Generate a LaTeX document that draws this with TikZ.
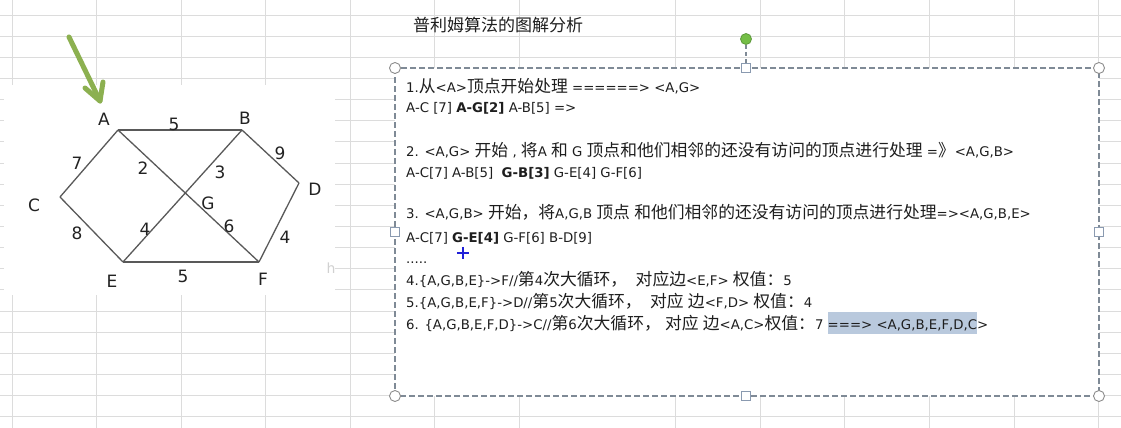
\documentclass[tikz,border=0pt]{standalone}
\usepackage{fontspec}
\setmainfont{DejaVu Sans}
\newfontfamily\cjk{Noto Sans CJK SC}
\usetikzlibrary{calc}
\definecolor{gridc}{HTML}{DCDCDC}
\definecolor{edgec}{HTML}{595959}
\definecolor{labc}{HTML}{222222}
\definecolor{boxc}{HTML}{7F8A96}
\definecolor{handc}{HTML}{8C8C8C}
\definecolor{sqc}{HTML}{8A9AB0}
\definecolor{arrowc}{HTML}{8CB050}
\definecolor{rotfill}{HTML}{74BE46}
\definecolor{rotdraw}{HTML}{5E9A3C}
\definecolor{hl}{HTML}{B9C9DD}
\definecolor{txtc}{HTML}{1E1E1E}
\definecolor{curc}{HTML}{2020D8}
\newcommand\zh[1]{{\fontsize{16.8pt}{20pt}\cjk #1}}
\newcommand\hlbox[1]{{\setlength\fboxsep{0pt}\colorbox{hl}{\rule[-4.5pt]{0pt}{22pt}#1}}}
\tikzset{
  gridline/.style={draw=gridc, line width=0.8pt},
  edge/.style={draw=edgec, line width=1.3pt},
  vlab/.style={font=\fontsize{17pt}{17pt}\selectfont, text=labc, inner sep=0pt},
  wlab/.style={font=\fontsize{17pt}{17pt}\selectfont, text=labc, inner sep=0pt},
  txt/.style={anchor=base west, inner sep=0pt, font=\fontsize{13.3pt}{15pt}\selectfont, text=txtc},
  hcirc/.style={circle, draw=handc, fill=white, line width=0.9pt, minimum size=11pt, inner sep=0pt},
  hsq/.style={rectangle, draw=sqc, fill=white, line width=0.9pt, minimum size=9pt, inner sep=0pt},
  rothandle/.style={circle, draw=rotdraw, fill=rotfill, line width=0.8pt, minimum size=11pt, inner sep=0pt},
  greenarrow/.style={draw=arrowc, line width=5pt, line cap=round, line join=round},
  cursorstyle/.style={minimum size=12pt, inner sep=0pt},
}
\begin{document}
\begin{tikzpicture}[x=1pt,y=-1pt]
\useasboundingbox (0,0) rectangle (1121,428);
\fill[white] (0,0) rectangle (1121,428);
% spreadsheet grid
\foreach \x in {12,96.5,181,265.5,350,434.5,519,675.6,760,844.6,929,1014,1098.5}
  \draw[gridline] (\x,0) -- (\x,428);
\foreach \k in {0,...,19}
  \draw[gridline] (0,{15+21.14*\k}) -- (1121,{15+21.14*\k});
% picture area of the graph
\fill[white] (4,85) rectangle (335,295);
\node[font=\fontsize{14pt}{14pt}\selectfont, text=black!18, inner sep=0pt] (hh) at (331,268) {h};
% title
\node[anchor=west, inner sep=0pt, font=\fontsize{17pt}{20pt}\selectfont, text=txtc] (title) at (413,25) {\cjk 普利姆算法的图解分析};
% green arrow
\coordinate (artail) at (69,37);
\coordinate (artip) at (100,101);
\coordinate (barbL) at (85,88);
\coordinate (barbR) at (103,82);
\draw[greenarrow] (artail) -- (artip);
\draw[greenarrow] (barbL) -- (artip) -- (barbR);
% graph vertices
\coordinate (A) at (118,130);
\coordinate (B) at (242,130);
\coordinate (C) at (60,197);
\coordinate (D) at (299,183);
\coordinate (E) at (123,262);
\coordinate (F) at (259,262);
\coordinate (G) at (intersection of A--F and B--E);
% edges
\draw[edge] (A) -- (B);
\draw[edge] (A) -- (C);
\draw[edge] (C) -- (E);
\draw[edge] (E) -- (F);
\draw[edge] (B) -- (D);
\draw[edge] (D) -- (F);
\draw[edge] (A) -- (G);
\draw[edge] (G) -- (F);
\draw[edge] (B) -- (G);
\draw[edge] (G) -- (E);
% vertex labels
\node[vlab] (lA) at (104,119) {A};
\node[vlab] (lB) at (245,118) {B};
\node[vlab] (lC) at (34,205) {C};
\node[vlab] (lD) at (315,189) {D};
\node[vlab] (lE) at (112,281) {E};
\node[vlab] (lF) at (263,279) {F};
\node[vlab] (lG) at (208,203) {G};
% weights
\node[wlab] (wAB) at (174,124) {5};
\node[wlab] (wAC) at (77,163) {7};
\node[wlab] (wAG) at (143,168) {2};
\node[wlab] (wBG) at (220,172) {3};
\node[wlab] (wBD) at (280,153) {9};
\node[wlab] (wCE) at (77,233) {8};
\node[wlab] (wGE) at (145,229) {4};
\node[wlab] (wGF) at (229,226) {6};
\node[wlab] (wDF) at (285,237) {4};
\node[wlab] (wEF) at (183,276) {5};
% text box
\filldraw[fill=white, draw=boxc, line width=1.2pt, dash pattern=on 6pt off 3pt] (395,68) rectangle (1099,396);
\node[hsq] (hT) at (746,68) {};
\node[rothandle] (rot) at (746,39) {};
\draw[draw=boxc, line width=1.2pt, dash pattern=on 4pt off 3pt] (rot) -- (hT);
\node[hcirc] (hTL) at (395,68) {};
\node[hcirc] (hTR) at (1099,68) {};
\node[hcirc] (hBL) at (395,396) {};
\node[hcirc] (hBR) at (1099,396) {};
\node[hsq] (hB) at (746,396) {};
\node[hsq] (hL) at (395,232) {};
\node[hsq] (hR) at (1099,232) {};
% text lines
\node[txt] (l1) at (406,92.5) {1.\zh{从}<A>\zh{顶点开始处理} ======> <A,G>};
\node[txt] (l2) at (406,112.5) {A-C [7] \textbf{A-G[2]} A-B[5] =>};
\node[txt] (l4) at (406,156.5) {2. <A,G> \zh{开始} , \zh{将}A \zh{和} G \zh{顶点和他们相邻的还没有访问的顶点进行处理} =\zh{》}<A,G,B>};
\node[txt] (l5) at (406,177.5) {A-C[7] A-B[5]\ \ \textbf{G-B[3]} G-E[4] G-F[6]};
\node[txt] (l7) at (406,218.5) {3. <A,G,B> \zh{开始，将}A,G,B \zh{顶点} \zh{和他们相邻的还没有访问的顶点进行处理}=><A,G,B,E>};
\node[txt] (l8) at (406,242.5) {A-C[7] \textbf{G-E[4]} G-F[6] B-D[9]};
\node[txt] (l9) at (406,263) {.....};
\node[txt] (l10) at (406,285.5) {4.\{A,G,B,E\}->F//\zh{第}4\zh{次大循环，}\ \ \zh{对应边}<E,F> \zh{权值：}5};
\node[txt] (l11) at (406,307.5) {5.\{A,G,B,E,F\}->D//\zh{第}5\zh{次大循环，}\ \ \zh{对应} \zh{边}<F,D> \zh{权值：}4};
\node[txt] (l12) at (406,329.5) {6. \{A,G,B,E,F,D\}->C//\zh{第}6\zh{次大循环，}\ \zh{对应} \zh{边}<A,C>\zh{权值：}7 \hlbox{===> <A,G,B,E,F,D,C}>};
% mouse cursor
\node[cursorstyle] (cur) at (463,253) {};
\draw[draw=curc, line width=2.2pt] (cur.west) -- (cur.east);
\draw[draw=curc, line width=2.2pt] (cur.north) -- (cur.south);
\end{tikzpicture}
\end{document}
